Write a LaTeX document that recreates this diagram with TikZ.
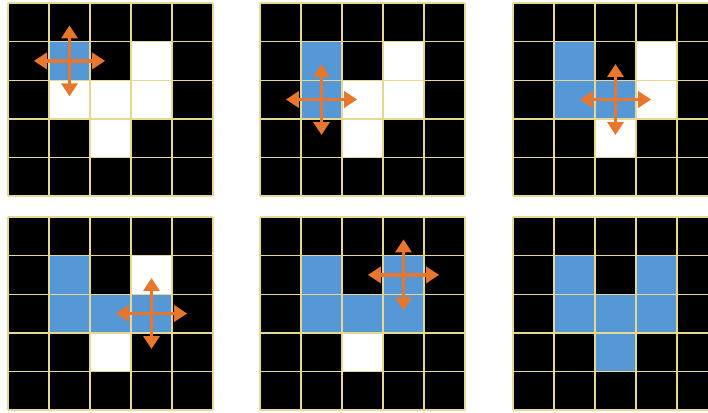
\documentclass[tikz,border=0pt]{standalone}
\usepackage{xcolor}
\usepackage{tikz}
\usetikzlibrary{arrows.meta}

\definecolor{cellblue}{RGB}{86,152,214}
\definecolor{arroworange}{RGB}{232,118,44}
\definecolor{gridyellow}{RGB}{228,216,146}

\begin{document}
\begin{tikzpicture}[
    x=1pt, y=-1pt,
    cellunits/.style={x=41pt, y=-38.6pt},
    gridline/.style={draw=gridyellow, line width=1.4pt},
    arrow/.style={-{Triangle[length=13pt, width=16pt]}, line width=3.5pt, draw=arroworange},
    bluecell/.style={fill=cellblue},
    whitecell/.style={fill=white}
]

\clip (0,0) rectangle (708,412);

% Panels: origin / blue cells / white cells / cross position
\foreach \ox/\oy/\blues/\whites/\cx/\cy in {
    8/3/{1/1}/{3/1,1/2,2/2,3/2,2/3}/1/1,
    260/3/{1/1,1/2}/{3/1,2/2,3/2,2/3}/1/2,
    513/3/{1/1,1/2,2/2}/{3/1,3/2,2/3}/2/2,
    8/217/{1/1,1/2,2/2,3/2}/{3/1,2/3}/3/2,
    260/217/{1/1,1/2,2/2,3/2,3/1}/{2/3}/3/1,
    513/217/{1/1,1/2,2/2,3/2,3/1,2/3}/{}/-1/-1} {
  \begin{scope}[shift={(\ox pt,-\oy pt)}, cellunits]
    % Background
    \fill[black] (0,0) rectangle (5,5);
    % Cells
    \foreach \c/\r in \whites {\fill[whitecell] (\c,\r) rectangle ++(1,1);}
    \foreach \c/\r in \blues {\fill[bluecell] (\c,\r) rectangle ++(1,1);}
    % Grid lines
    \foreach \i in {0,...,5} {
      \draw[gridline] (\i,0) -- (\i,5);
      \draw[gridline] (0,\i) -- (5,\i);
    }
    % Neighbour arrows
    \ifnum\cx>-1
      \foreach \dx/\dy in {0.87/0, -0.87/0, 0/0.92, 0/-0.92} {
        \draw[arrow] (\cx+0.5,\cy+0.5) -- ++(\dx,\dy);
      }
    \fi
  \end{scope}
}

\end{tikzpicture}
\end{document}
